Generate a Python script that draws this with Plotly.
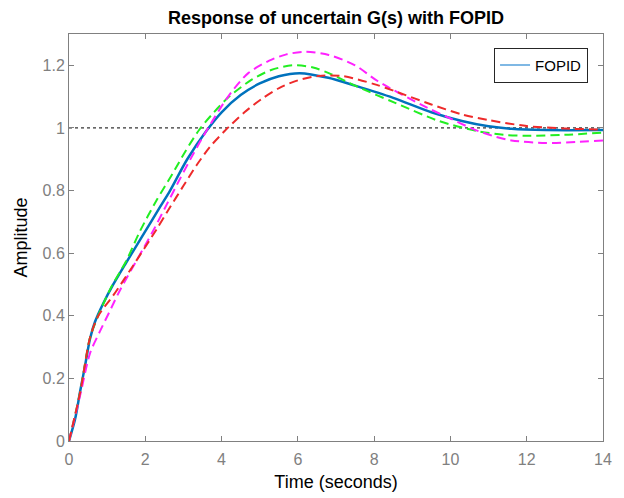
import plotly.graph_objects as go

# step responses (time in seconds, amplitude)
t_fopid = [0, 0.16, 0.29, 0.42, 0.55, 0.68, 0.9, 1.16, 1.5, 1.95, 2.4, 2.65, 3.1, 3.6, 4.0,
           4.5, 5.0, 5.5, 6.05, 6.8, 7.5, 8.5, 9.5, 10.3, 11.0, 11.6, 12.5, 14]
y_fopid = [0, 0.07, 0.157, 0.24, 0.326, 0.38, 0.44, 0.5, 0.57, 0.66, 0.75, 0.8, 0.9, 0.99, 1.05,
           1.105, 1.142, 1.165, 1.175, 1.16, 1.135, 1.096, 1.05, 1.022, 1.005, 0.997, 0.993, 0.993]

t_green = [0, 0.3, 0.55, 0.8, 1.1, 1.5, 1.86, 2.3, 2.72, 3.05, 3.42, 3.8, 4.2, 4.8, 5.3,
           5.86, 6.4, 6.81, 7.5, 8.55, 9.7, 10.7, 11.4, 12.0, 13.0, 14]
y_green = [0, 0.16, 0.33, 0.41, 0.49, 0.575, 0.67, 0.77, 0.855, 0.925, 0.995, 1.05, 1.1, 1.155, 1.185,
           1.2, 1.193, 1.175, 1.135, 1.08, 1.022, 0.99, 0.978, 0.975, 0.978, 0.985]

t_magenta = [0, 0.3, 0.55, 0.81, 1.05, 1.33, 1.95, 2.2, 2.56, 2.9, 3.25, 3.6, 4.2, 4.7, 5.25,
             5.7, 6.2, 6.81, 7.5, 8.1, 9.4, 10.0, 10.6, 11.1, 11.6, 12.5, 13.3, 14]
y_magenta = [0, 0.15, 0.28, 0.35, 0.41, 0.48, 0.615, 0.67, 0.755, 0.835, 0.915, 0.99, 1.105, 1.175, 1.215,
             1.235, 1.243, 1.233, 1.2, 1.149, 1.064, 1.03, 0.996, 0.975, 0.96, 0.952, 0.955, 0.96]

t_red = [0, 0.3, 0.55, 0.77, 1.16, 1.68, 2.29, 2.64, 3.0, 3.34, 3.7, 4.08, 4.6, 5.08, 5.52,
         6.0, 6.55, 7.2, 8.0, 8.55, 9.5, 10.3, 11.0, 12.0, 13.0, 14]
y_red = [0, 0.16, 0.33, 0.40, 0.465, 0.56, 0.675, 0.745, 0.815, 0.88, 0.94, 0.99, 1.05, 1.095, 1.128,
         1.152, 1.166, 1.165, 1.14, 1.117, 1.075, 1.043, 1.025, 1.006, 0.998, 0.995]

ref_t = [0, 14]
ref_y = [1, 1]

x_ticks = [0, 2, 4, 6, 8, 10, 12, 14]
y_ticks = [0, 0.2, 0.4, 0.6, 0.8, 1, 1.2]
y_ticktext = ["0", "0.2", "0.4", "0.6", "0.8", "1", "1.2"]

FONT = "Liberation Sans, Arial, Helvetica"

fig = go.Figure()

fig.add_trace(go.Scatter(x=ref_t, y=ref_y, mode="lines", showlegend=False,
                         line=dict(color="black", width=1, dash="dot")))
fig.add_trace(go.Scatter(x=t_fopid, y=y_fopid, mode="lines", name="FOPID", showlegend=False,
                         line=dict(color="#0072BD", width=2.5, shape="spline", smoothing=0.8)))

dashed = [(t_green, y_green, "#22ee22"), (t_magenta, y_magenta, "#ff22ff"), (t_red, y_red, "#ee2a2a")]
for tt, yy, col in dashed:
    fig.add_trace(go.Scatter(x=tt, y=yy, mode="lines", showlegend=False,
                             line=dict(color=col, width=2, dash="9px,5px", shape="spline", smoothing=0.8)))

# legend entry only (the legend sample is drawn lighter in the original)
fig.add_trace(go.Scatter(x=[None], y=[None], mode="lines", name="FOPID",
                         line=dict(color="#7fb8e4", width=2)))

axis_common = dict(
    showgrid=False, zeroline=False, showline=True, mirror="ticks", automargin=False,
    linecolor="#808080", linewidth=1, ticks="inside", ticklen=5, tickcolor="#808080",
    tickfont=dict(family=FONT, size=16, color="#808080"),
)

# page body has an 8px margin, so the figure is 8px smaller and margins shifted
fig.update_layout(
    width=616, height=490,
    margin=dict(l=61, r=21, t=26, b=57),
    paper_bgcolor="white", plot_bgcolor="white",
    title=dict(text="<b>Response of uncertain G(s) with FOPID</b>", x=0.5, xref="paper",
               y=0.981, yanchor="middle",
               font=dict(family=FONT, size=18, color="black")),
    xaxis=dict(range=[0, 14], tickvals=x_ticks, ticktext=[str(v) for v in x_ticks],
               ticklabelstandoff=4,
               title=dict(text="Time (seconds)", standoff=8,
                          font=dict(family=FONT, size=18, color="black")),
               **axis_common),
    yaxis=dict(range=[0, 1.3], tickvals=y_ticks, ticktext=y_ticktext,
               title=dict(text="Amplitude", standoff=10,
                          font=dict(family=FONT, size=18, color="black")),
               **axis_common),
    legend=dict(x=0.972, y=0.966, xanchor="right", yanchor="top",
                bgcolor="white", bordercolor="#262626", borderwidth=1,
                font=dict(family=FONT, size=15, color="black")),
    showlegend=True,
)

fig.write_html("out.html")
